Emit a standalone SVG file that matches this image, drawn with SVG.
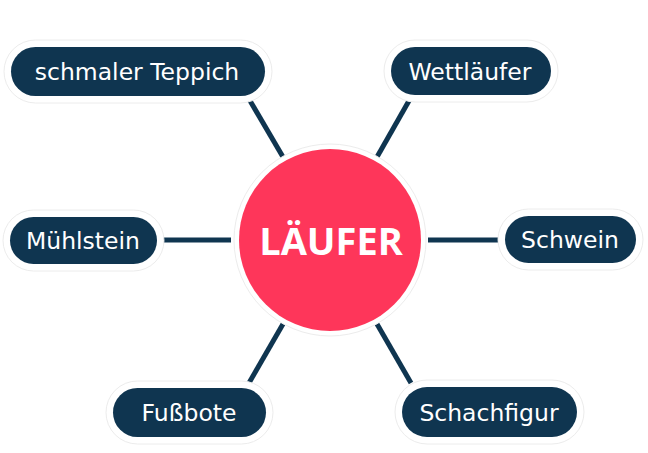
<svg xmlns="http://www.w3.org/2000/svg" width="648" height="453" viewBox="0 0 648 453">
<defs>
<style>
.halo{fill:#ffffff;stroke:#ececec;stroke-width:1}
.pill{fill:#0f3550}
.lbl{fill:#ffffff;font-family:"DejaVu Sans","Liberation Sans",sans-serif;font-size:23.5px;text-anchor:middle}
.conn line{stroke:#0f3550;stroke-width:5;stroke-linecap:butt}
</style>
</defs>
<rect width="648" height="453" fill="#ffffff"/>
<g class="conn" id="connectors">
<line x1="249" y1="99" x2="283" y2="157"/>
<line x1="410" y1="99" x2="377" y2="157"/>
<line x1="162" y1="240" x2="231" y2="240"/>
<line x1="428" y1="240" x2="498" y2="240"/>
<line x1="283" y1="324" x2="249" y2="383"/>
<line x1="377" y1="324" x2="411" y2="383"/>
</g>
<g id="center">
<circle cx="330" cy="240" r="96" class="halo"/>
<circle cx="330" cy="240" r="91" fill="#fe365a"/>
<text x="331" y="255" fill="#ffffff" font-family="'Open Sans','DejaVu Sans',sans-serif" font-weight="bold" font-size="38" text-anchor="middle">LÄUFER</text>
</g>
<g id="n-teppich">
<rect x="4" y="40" width="268" height="63" rx="31.5" class="halo"/>
<rect x="11" y="47" width="254" height="49" rx="24.5" class="pill"/>
<text x="137" y="80" class="lbl">schmaler Teppich</text>
</g>
<g id="n-wettlaeufer">
<rect x="384" y="40" width="174" height="62" rx="31" class="halo"/>
<rect x="391" y="47" width="160" height="48" rx="24" class="pill"/>
<text x="470" y="80" class="lbl">Wettläufer</text>
</g>
<g id="n-muehlstein">
<rect x="3" y="210" width="161" height="61" rx="30.5" class="halo"/>
<rect x="10" y="217" width="147" height="47" rx="23.5" class="pill"/>
<text x="83" y="249" class="lbl">Mühlstein</text>
</g>
<g id="n-schwein">
<rect x="498" y="209" width="145" height="61" rx="30.5" class="halo"/>
<rect x="505" y="216" width="131" height="47" rx="23.5" class="pill"/>
<text x="570" y="248" class="lbl">Schwein</text>
</g>
<g id="n-fussbote">
<rect x="106" y="381" width="167" height="63" rx="31.5" class="halo"/>
<rect x="113" y="388" width="153" height="49" rx="24.5" class="pill"/>
<text x="189" y="421" class="lbl">Fußbote</text>
</g>
<g id="n-schachfigur">
<rect x="395" y="380" width="189" height="64" rx="32" class="halo"/>
<rect x="402" y="387" width="175" height="50" rx="25" class="pill"/>
<text x="489" y="421" class="lbl">Schachfigur</text>
</g>
</svg>
